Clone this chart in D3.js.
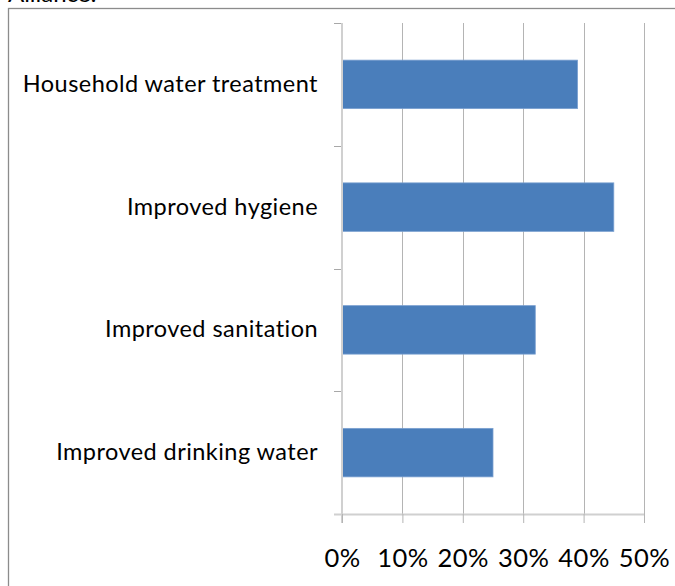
<!DOCTYPE html>
<html>
<head>
<meta charset="utf-8">
<script src="https://cdn.jsdelivr.net/npm/d3@7"></script>
<style>
  html, body { margin: 0; padding: 0; background: #fff; }
  svg { display: block; }
</style>
</head>
<body>
<svg id="chart" width="675" height="586"></svg>
<script>
// Share of respondents per intervention (top to bottom)
const categories = [
  "Household water treatment",
  "Improved hygiene",
  "Improved sanitation",
  "Improved drinking water"
];
const shares = [0.39, 0.45, 0.32, 0.25];
const tickValues = [0, 0.1, 0.2, 0.3, 0.4, 0.5];

const svg = d3.select("#chart");
const font = "Lato, 'Open Sans', sans-serif";

// Heading above the framed chart (clipped by the top of the page)
svg.append("text")
  .attr("x", 8).attr("y", 2)
  .attr("font-family", font).attr("font-size", 24)
  .attr("fill", "#000")
  .text("Alliance:");

// Chart frame
svg.append("rect")
  .attr("x", 8.5).attr("y", 8.5)
  .attr("width", 700).attr("height", 600)
  .attr("fill", "none").attr("stroke", "#8c8c8c").attr("stroke-width", 1.3);

const plot = { left: 342, right: 644, top: 23, bottom: 514 };

const x = d3.scaleLinear().domain([0, 0.5]).range([plot.left, plot.right]);
const y = d3.scaleBand().domain(categories).range([plot.top, plot.bottom]).padding(0);
const barH = y.bandwidth() * 0.395;

// Vertical gridlines
svg.append("g")
  .selectAll("line")
  .data(tickValues.filter(d => d > 0))
  .join("line")
  .attr("x1", d => Math.round(x(d)) + 0.5).attr("x2", d => Math.round(x(d)) + 0.5)
  .attr("y1", plot.top).attr("y2", plot.bottom)
  .attr("stroke", "#b4b4b4").attr("stroke-width", 1);

// Bars
svg.append("g")
  .selectAll("rect")
  .data(categories.map((c, i) => ({ c, v: shares[i] })))
  .join("rect")
  .attr("x", x(0))
  .attr("y", d => y(d.c) + (y.bandwidth() - barH) / 2)
  .attr("width", d => x(d.v) - x(0))
  .attr("height", barH)
  .attr("fill", "#4a7ebb")
  .attr("stroke", "#7aa0d0").attr("stroke-width", 0.8);

// Category axis (left)
const yAxisG = svg.append("g")
  .attr("transform", `translate(${plot.left},0)`)
  .call(d3.axisLeft(y).tickSize(0).tickPadding(24));
yAxisG.select(".domain").remove();
yAxisG.selectAll("text")
  .attr("font-family", font).attr("font-size", 23.5)
  .attr("letter-spacing", "0.45px").attr("fill", "#000");

// Category boundary tick marks
const bounds = categories.map(c => y(c)).concat([plot.bottom]);
svg.append("g")
  .selectAll("line")
  .data(bounds)
  .join("line")
  .attr("x1", plot.left - 8).attr("x2", plot.left)
  .attr("y1", d => Math.round(d) + 0.5).attr("y2", d => Math.round(d) + 0.5)
  .attr("stroke", "#a8a8a8").attr("stroke-width", 1);

svg.append("line")
  .attr("x1", plot.left).attr("x2", plot.left)
  .attr("y1", plot.top).attr("y2", plot.bottom + 9)
  .attr("stroke", "#d0d0d0").attr("stroke-width", 2);

// Value axis (bottom)
const xAxisG = svg.append("g")
  .attr("transform", `translate(0,${plot.bottom})`)
  .call(d3.axisBottom(x).tickValues(tickValues).tickFormat(d3.format(".0%"))
        .tickSize(9).tickSizeOuter(0).tickPadding(26));
xAxisG.select(".domain")
  .attr("d", `M${plot.left - 8},0.5H${plot.right}`)
  .attr("stroke", "#d0d0d0").attr("stroke-width", 2);
xAxisG.selectAll(".tick line").attr("stroke", "#b4b4b4");
xAxisG.selectAll("text")
  .attr("font-family", font).attr("font-size", 25.5)
  .attr("letter-spacing", "0.5px").attr("fill", "#000");
</script>
</body>
</html>
